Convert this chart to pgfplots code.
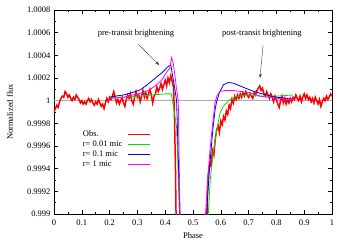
\documentclass[border=0pt]{standalone}
\usepackage{fontspec}
\setmainfont{Liberation Serif}
\usepackage{pgfplots}
\pgfplotsset{compat=1.18}
\usetikzlibrary{arrows.meta}
\definecolor{obsred}{RGB}{255,0,0}
\definecolor{mgreen}{RGB}{0,225,0}
\definecolor{mblue}{RGB}{0,0,220}
\definecolor{mmag}{RGB}{255,0,255}
\begin{document}
\begin{tikzpicture}[font=\fontsize{8.5}{10}\selectfont]
\useasboundingbox (-54pt,-28pt) rectangle (292pt,214pt);
\begin{axis}[
  scale only axis, width=278pt, height=204pt,
  xmin=0, xmax=1, ymin=0.999, ymax=1.0008,
  xtick={0,0.1,0.2,0.3,0.4,0.5,0.6,0.7,0.8,0.9,1},
  xticklabels={0,0.1,0.2,0.3,0.4,0.5,0.6,0.7,0.8,0.9,1},
  ytick={0.999,0.9992,0.9994,0.9996,0.9998,1,1.0002,1.0004,1.0006,1.0008},
  yticklabels={0.999,0.9992,0.9994,0.9996,0.9998,1,1.0002,1.0004,1.0006,1.0008},
  minor x tick num=1, minor y tick num=1,
  tick align=inside, major tick length=4pt, minor tick length=2pt,
  tick style={black, line width=0.4pt},
  axis line style={line width=0.5pt},
  xticklabel shift=2.5pt,
  xlabel={Phase}, ylabel={Normalized flux},
  xlabel style={at={(axis description cs:0.5,0)}, yshift=-22pt, anchor=center},
  ylabel style={at={(axis description cs:0,0.5)}, anchor=center, yshift=44pt},
  legend cell align=left,
  legend style={draw=none, fill=none, inner sep=0pt, at={(0.0906,0.42)}, anchor=north west,
    row sep=-1.2pt},
  clip=true,
]
\addplot[gray!65, line width=0.9pt, forget plot] coordinates {(0,1) (1,1)};
\addplot[color=obsred, line width=1.5pt,
  legend image code/.code={\draw[overlay, color=obsred, line width=1.4pt] (47.8pt,0pt) -- (69.8pt,0pt); \path (0pt,0pt);}] table {
0.000 0.99990
0.005 0.99993
0.010 0.99996
0.015 0.99994
0.020 0.99999
0.025 1.00002
0.030 1.00004
0.035 1.00003
0.040 1.00008
0.045 1.00006
0.050 1.00003
0.055 1.00005
0.060 1.00002
0.065 1.00000
0.070 1.00003
0.075 1.00001
0.080 1.00005
0.085 1.00003
0.090 1.00001
0.095 0.99998
0.100 1.00000
0.105 0.99997
0.110 0.99999
0.115 0.99997
0.120 1.00000
0.125 1.00002
0.130 0.99999
0.135 1.00001
0.140 0.99998
0.145 0.99996
0.150 0.99999
0.155 0.99997
0.160 1.00001
0.165 0.99998
0.170 0.99995
0.175 0.99997
0.180 0.99993
0.185 0.99998
0.190 1.00002
0.195 0.99999
0.200 1.00003
0.205 1.00001
0.210 1.00004
0.215 1.00008
0.220 1.00003
0.225 0.99998
0.230 1.00001
0.235 0.99997
0.240 1.00000
0.245 1.00003
0.250 0.99998
0.255 0.99995
0.260 1.00001
0.265 1.00005
0.270 1.00002
0.275 1.00006
0.280 1.00000
0.285 0.99997
0.290 1.00003
0.295 1.00008
0.300 1.00003
0.305 1.00005
0.310 0.99999
0.315 1.00004
0.320 1.00009
0.325 1.00003
0.330 1.00007
0.335 1.00002
0.340 1.00006
0.345 1.00010
0.350 1.00005
0.355 0.99998
0.360 1.00004
0.365 1.00006
0.370 1.00012
0.375 1.00008
0.380 1.00011
0.385 1.00015
0.390 1.00010
0.395 1.00014
0.400 1.00018
0.405 1.00013
0.410 1.00020
0.415 1.00016
0.420 1.00022
0.425 1.00017
0.430 1.00012
0.433 0.99990
0.437 0.99940
0.440 0.99880
0.500 0.99800
0.548 0.99860
0.552 0.99920
0.555 0.99935
0.560 0.99945
0.565 0.99942
0.570 0.99956
0.575 0.99952
0.580 0.99966
0.585 0.99974
0.590 0.99978
0.595 0.99972
0.600 0.99982
0.605 0.99979
0.610 0.99986
0.615 0.99983
0.620 0.99991
0.625 0.99988
0.630 0.99996
0.635 0.99993
0.640 1.00001
0.645 0.99998
0.650 1.00004
0.655 1.00001
0.660 1.00005
0.665 1.00002
0.670 1.00006
0.675 1.00003
0.680 1.00007
0.685 1.00004
0.690 1.00008
0.695 1.00005
0.700 1.00003
0.705 1.00006
0.710 1.00004
0.715 1.00002
0.720 1.00007
0.725 1.00005
0.730 1.00009
0.735 1.00011
0.740 1.00013
0.745 1.00009
0.750 1.00011
0.755 1.00006
0.760 1.00004
0.765 1.00008
0.770 1.00005
0.775 1.00002
0.780 1.00006
0.785 1.00003
0.790 0.99999
0.795 1.00004
0.800 1.00001
0.805 0.99997
0.810 0.99994
0.815 1.00000
0.820 1.00004
0.825 0.99998
0.830 1.00002
0.835 0.99997
0.840 1.00001
0.845 0.99998
0.850 1.00002
0.855 0.99999
0.860 1.00003
0.865 1.00001
0.870 1.00005
0.875 1.00002
0.880 1.00000
0.885 1.00004
0.890 0.99999
0.895 1.00003
0.900 1.00006
0.905 1.00002
0.910 1.00005
0.915 1.00001
0.920 1.00003
0.925 0.99999
0.930 1.00002
0.935 0.99998
0.940 1.00003
0.945 1.00000
0.950 0.99997
0.955 1.00001
0.960 0.99995
0.965 0.99999
0.970 1.00002
0.975 1.00000
0.980 1.00004
0.985 1.00001
0.990 1.00003
0.995 1.00006
1.000 1.00004
};
\addlegendentry{Obs.}
\addplot[color=mgreen, line width=0.8pt,
  legend image code/.code={\draw[overlay, color=mgreen, line width=0.9pt] (47.8pt,0pt) -- (69.8pt,0pt); \path (0pt,0pt);}] table {
0.200 1.00003
0.250 1.00003
0.300 1.00004
0.350 1.00005
0.400 1.00006
0.422 1.00006
0.426 1.00000
0.441 0.99977
0.446 0.99940
0.452 0.99890
0.500 0.99800
0.552 0.99880
0.555 0.99900
0.562 0.99930
0.573 0.99955
0.585 0.99973
0.597 0.99989
0.609 0.99995
0.627 1.00000
0.645 1.00003
0.663 1.00004
0.700 1.00005
0.741 1.00004
0.800 1.00004
0.859 1.00005
};
\addlegendentry{r= 0.01 mic}
\addplot[color=mblue, line width=0.8pt,
  legend image code/.code={\draw[overlay, color=mblue, line width=0.9pt] (47.8pt,0pt) -- (69.8pt,0pt); \path (0pt,0pt);}] table {
0.200 1.00003
0.220 1.00004
0.250 1.00005
0.280 1.00007
0.310 1.000095
0.330 1.00013
0.350 1.00017
0.370 1.00021
0.390 1.00025
0.410 1.00030
0.420 1.000315
0.428 1.00020
0.435 1.00010
0.441 1.00000
0.447 0.99950
0.453 0.99900
0.500 0.99800
0.546 0.99880
0.549 0.99900
0.556 0.99928
0.564 0.99954
0.572 0.99976
0.580 0.99993
0.585 0.99999
0.595 1.00007
0.609 1.00014
0.627 1.00016
0.645 1.000155
0.669 1.00013
0.705 1.000094
0.741 1.000065
0.789 1.000035
0.859 1.000012
};
\addlegendentry{r= 0.1 mic}
\addplot[color=mmag, line width=0.8pt,
  legend image code/.code={\draw[overlay, color=mmag, line width=1.2pt] (47.8pt,0pt) -- (69.8pt,0pt); \path (0pt,0pt);}] table {
0.200 1.00002
0.250 1.00003
0.310 1.000065
0.340 1.00009
0.370 1.00014
0.390 1.00019
0.405 1.00025
0.417 1.00029
0.423 1.00038
0.429 1.00033
0.435 1.00022
0.441 1.00010
0.447 1.00000
0.450 0.99950
0.454 0.99890
0.500 0.99800
0.543 0.99880
0.545 0.99900
0.553 0.99930
0.561 0.99956
0.570 0.99978
0.579 0.99998
0.587 1.00005
0.597 1.00008
0.615 1.00009
0.645 1.00009
0.705 1.00007
0.741 1.00004
0.800 1.00002
0.859 1.00001
};
\addlegendentry{r= 1 mic}
\node[anchor=center] at (axis cs:0.295,1.000597) {pre-transit brightening};
\draw[black!75, line width=0.4pt, -{Stealth[length=4pt,width=3pt]}] (axis cs:0.302,1.0005) -- (axis cs:0.378,1.000315);
\node[anchor=center] at (axis cs:0.748,1.000597) {post-transit brightening};
\draw[black!75, line width=0.4pt, -{Stealth[length=4pt,width=3pt]}] (axis cs:0.752,1.00049) -- (axis cs:0.741,1.0002);
\end{axis}
\end{tikzpicture}
\end{document}
